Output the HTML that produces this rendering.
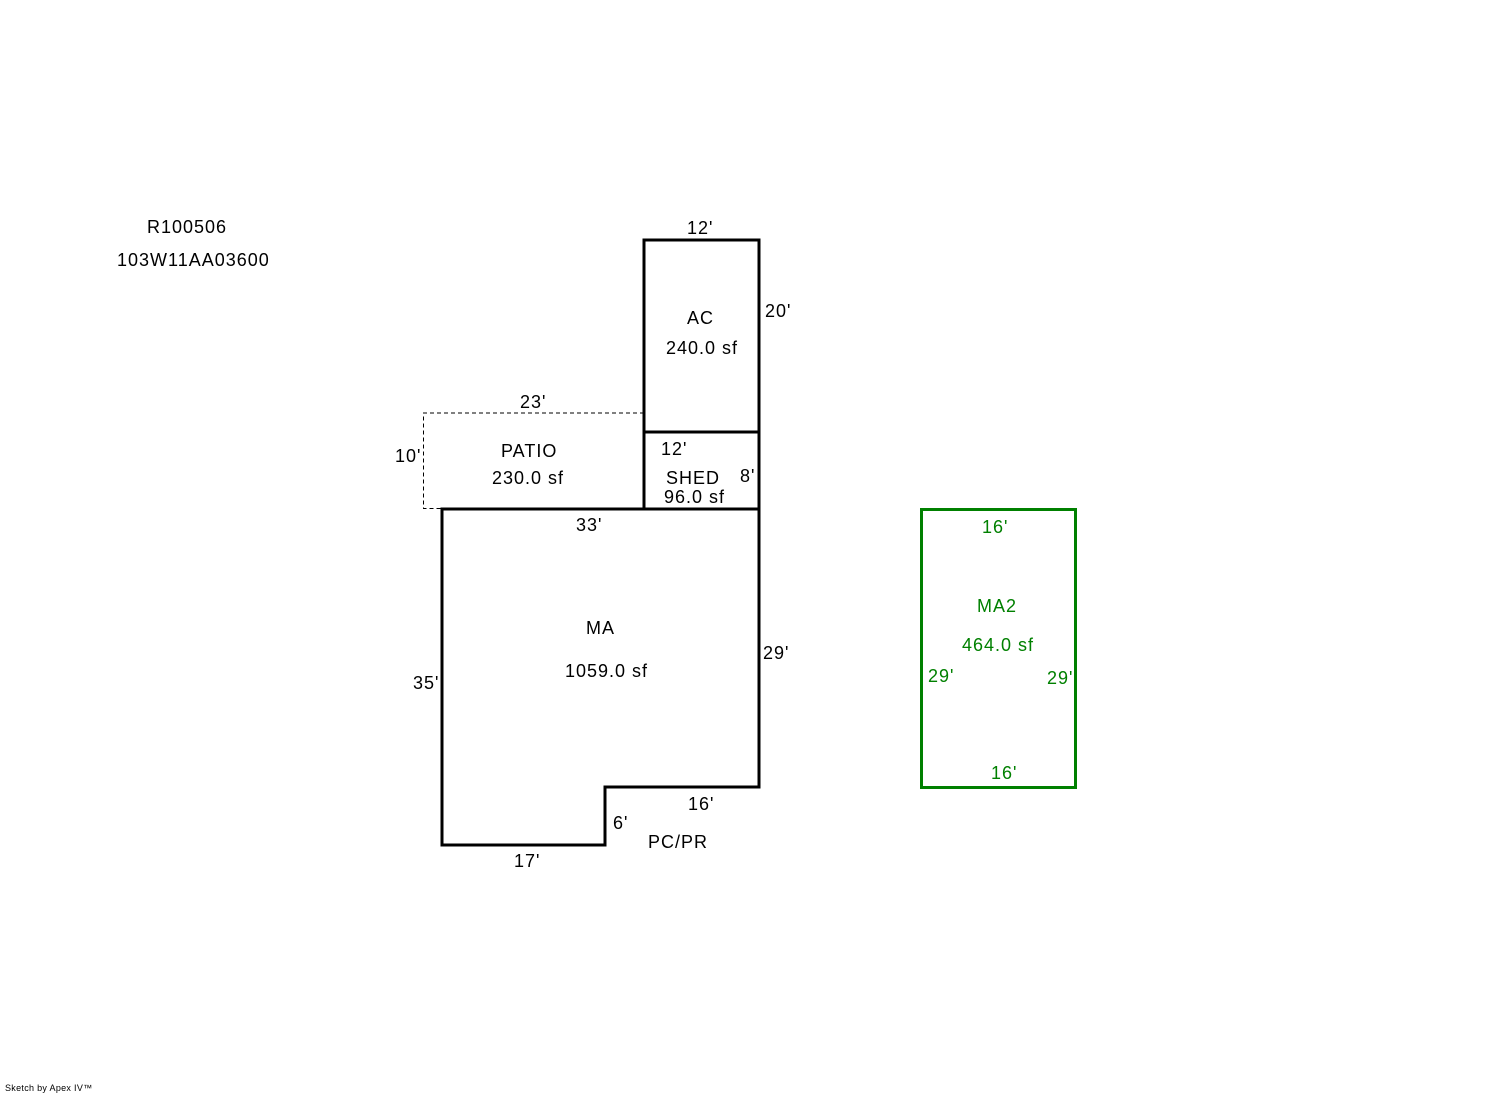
<!DOCTYPE html>
<html><head><style>html,body{margin:0;padding:0;background:#fff;}svg{display:block}</style></head>
<body>
<svg width="1492" height="1094" xmlns="http://www.w3.org/2000/svg" font-family="Liberation Sans, Arial, sans-serif" font-size="18" letter-spacing="1">
<polyline points="644,413 423.5,413 423.5,508.5 442,508.5" fill="none" stroke="#000" stroke-width="1" stroke-dasharray="4,3"/>
<rect x="644" y="240" width="115" height="192" fill="none" stroke="#000" stroke-width="3"/>
<rect x="644" y="432" width="115" height="77" fill="none" stroke="#000" stroke-width="3"/>
<polygon points="442,509 759,509 759,787 605,787 605,845 442,845" fill="none" stroke="#000" stroke-width="3"/>
<rect x="921.5" y="509.5" width="154" height="278" fill="none" stroke="#008000" stroke-width="3"/>
<g fill="#000">
<text x="147" y="233">R100506</text>
<text x="117" y="266">103W11AA03600</text>
<text x="687" y="234">12'</text>
<text x="765" y="317">20'</text>
<text x="687" y="324">AC</text>
<text x="666" y="354">240.0 sf</text>
<text x="520" y="408">23'</text>
<text x="395" y="462">10'</text>
<text x="501" y="457">PATIO</text>
<text x="492" y="484">230.0 sf</text>
<text x="661" y="455">12'</text>
<text x="740" y="482">8'</text>
<text x="666" y="484">SHED</text>
<text x="664" y="503">96.0 sf</text>
<text x="576" y="531">33'</text>
<text x="586" y="634">MA</text>
<text x="565" y="677">1059.0 sf</text>
<text x="763" y="659">29'</text>
<text x="413" y="689">35'</text>
<text x="688" y="810">16'</text>
<text x="613" y="829">6'</text>
<text x="648" y="848">PC/PR</text>
<text x="514" y="867">17'</text>
</g>
<g fill="#008000">
<text x="982" y="533">16'</text>
<text x="977" y="612">MA2</text>
<text x="962" y="651">464.0 sf</text>
<text x="928" y="682">29'</text>
<text x="1047" y="684">29'</text>
<text x="991" y="779">16'</text>
</g>
<text x="5" y="1091" font-size="9" letter-spacing="0.3">Sketch by Apex IV™</text>
</svg>
</body></html>
